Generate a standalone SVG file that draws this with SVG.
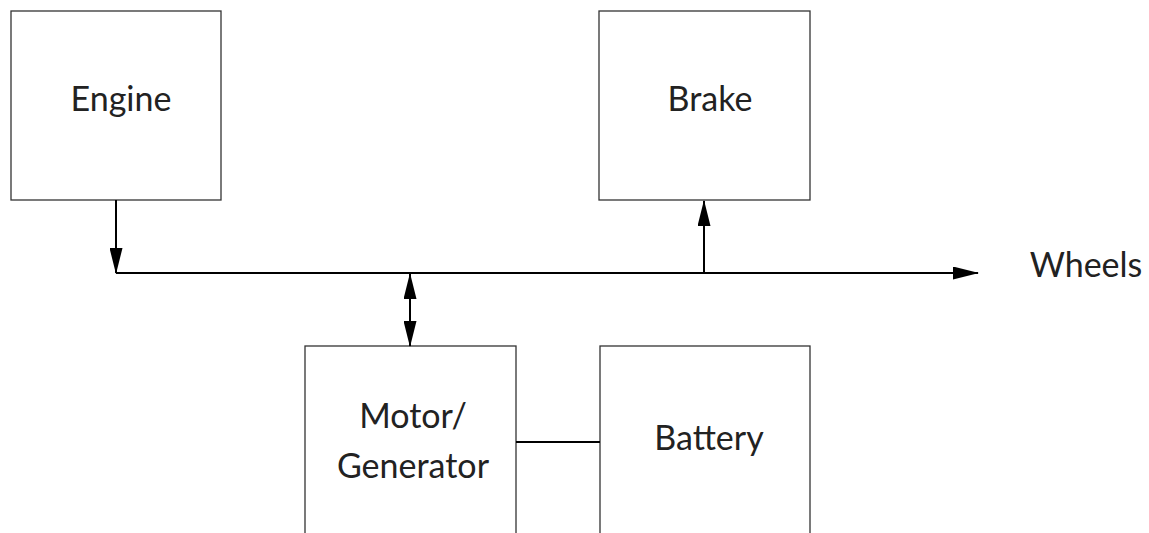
<svg xmlns="http://www.w3.org/2000/svg" width="1149" height="533" viewBox="0 0 1149 533">
<style>
.box{fill:#fff;stroke:#333;stroke-width:1.3}
.lbl{font-family:Lato,"Open Sans","Liberation Sans",sans-serif;font-size:34px;fill:#222;text-anchor:middle}
.con{fill:none;stroke:#000;stroke-width:2}
</style>
<defs>
<marker id="ah" markerUnits="userSpaceOnUse" markerWidth="26" markerHeight="13" refX="25" refY="6.5" orient="auto-start-reverse" viewBox="0 0 26 13">
<path d="M0,0 L26,6.5 L0,13 z" fill="#000"/>
</marker>
</defs>
<rect width="1149" height="533" fill="#fff"/>
<g id="engine"><rect class="box" x="11" y="11" width="210" height="189"/><text class="lbl" x="121" y="111">Engine</text></g>
<g id="brake"><rect class="box" x="599" y="11" width="211" height="189"/><text class="lbl" x="710" y="111">Brake</text></g>
<g id="motor"><rect class="box" x="305" y="346" width="211" height="200"/><text class="lbl" x="413" y="428">Motor/</text><text class="lbl" x="413" y="478">Generator</text></g>
<g id="battery"><rect class="box" x="600" y="346" width="210" height="200"/><text class="lbl" x="709" y="450">Battery</text></g>
<g id="wheels"><text class="lbl" x="1086" y="277">Wheels</text></g>
<g id="connectors">
<path class="con" d="M116,200 V273" marker-end="url(#ah)"/>
<path class="con" d="M116,273 H978" marker-end="url(#ah)"/>
<path class="con" d="M704,273 V201" marker-end="url(#ah)"/>
<path class="con" d="M410,274 V346" marker-start="url(#ah)" marker-end="url(#ah)"/>
<path class="con" d="M516,442 H600"/>
</g>
</svg>
